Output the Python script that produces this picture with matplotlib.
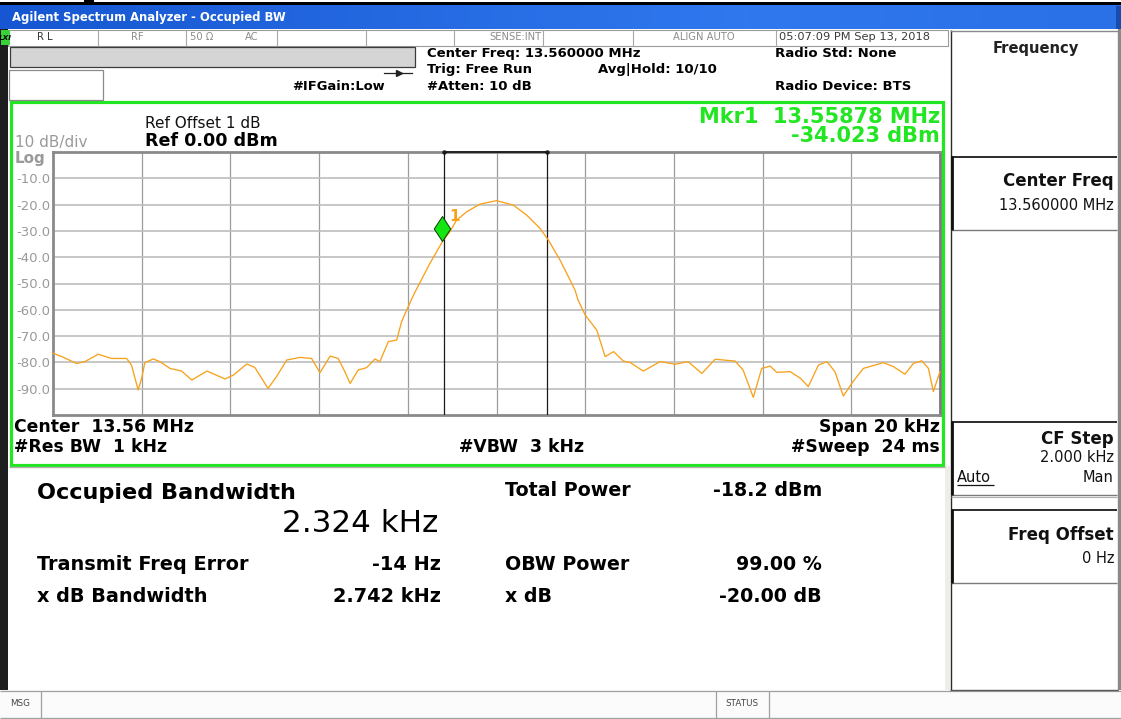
import numpy as np
import matplotlib
matplotlib.use('Agg')
import matplotlib.pyplot as plt
from matplotlib.patches import Rectangle
from matplotlib.path import Path
from matplotlib.colors import LinearSegmentedColormap

# ---------------- data ----------------
center_mhz = 13.56
span_khz = 20.0
ref_level_dbm = 0.0
db_per_div = 10.0

freq_offset_khz = [-10.00, -9.80, -9.47, -9.28, -8.98, -8.68, -8.34, -8.23, -8.08, -8.00,
                   -7.93, -7.74, -7.59, -7.36, -7.10, -6.87, -6.53, -6.12, -5.93, -5.63,
                   -5.45, -5.15, -4.96, -4.73, -4.43, -4.17, -3.98, -3.75, -3.57, -3.42,
                   -3.30, -3.12, -2.93, -2.74, -2.63, -2.44, -2.25, -2.14, -1.99, -1.86,
                   -1.50, -1.35, -1.20, -1.05, -0.90, -0.67, -0.37, 0.00, 0.38, 0.68,
                   0.83, 0.98, 1.17, 1.43, 1.66, 1.77, 1.84, 2.00, 2.26, 2.45,
                   2.64, 2.86, 3.01, 3.31, 3.69, 4.03, 4.32, 4.63, 4.93, 5.38,
                   5.56, 5.79, 5.98, 6.17, 6.32, 6.62, 6.85, 7.03, 7.26, 7.45,
                   7.63, 7.82, 8.04, 8.27, 8.72, 8.95, 9.21, 9.40, 9.59, 9.74,
                   9.85, 10.00]
level_dbm = [-76.5, -77.8, -80.4, -79.7, -76.9, -78.5, -78.5, -81.0, -90.5, -86.0,
             -80.1, -78.7, -79.7, -82.3, -83.3, -86.7, -83.3, -86.3, -84.8, -80.6,
             -81.9, -89.9, -85.4, -79.1, -78.1, -78.5, -83.9, -77.6, -78.5, -83.5,
             -88.0, -82.9, -82.0, -78.7, -79.7, -72.1, -71.5, -64.5, -58.8, -54.0,
             -42.3, -37.9, -33.5, -30.3, -25.9, -22.7, -19.8, -18.5, -20.2, -24.0,
             -26.5, -29.0, -33.5, -41.0, -48.7, -52.5, -56.3, -62.0, -67.7, -77.8,
             -75.9, -79.5, -80.0, -83.3, -79.7, -80.7, -79.7, -84.2, -78.8, -79.5,
             -82.9, -93.3, -82.3, -81.4, -83.8, -83.5, -86.0, -89.2, -81.0, -79.7,
             -83.5, -92.8, -87.3, -82.3, -80.1, -81.6, -84.5, -80.4, -79.4, -82.3,
             -91.1, -83.5]

marker_freq_mhz = 13.55878
marker_level_dbm = -34.023
obw_khz = 2.324
freq_error_hz = -14
xdb_bw_khz = 2.742
total_power_dbm = -18.2
obw_power_pct = 99.00
xdb_db = -20.00

ytick_values = [-10, -20, -30, -40, -50, -60, -70, -80, -90]
ytick_labels = ['-10.0', '-20.0', '-30.0', '-40.0', '-50.0', '-60.0', '-70.0', '-80.0', '-90.0']

# ---------------- figure ----------------
W, H = 1121, 719
plt.rcParams['font.family'] = ['DejaVu Sans']
fig = plt.figure(figsize=(W / 100, H / 100), dpi=100)
fig.patch.set_facecolor('white')
bg = fig.add_axes([0, 0, 1, 1])
bg.set_xlim(0, W)
bg.set_ylim(H, 0)
bg.axis('off')

GREEN = '#22e622'
GRAYTXT = '#8c8c8c'


def rect(x0, y0, x1, y1, fc, ec='none', lw=0.0, z=1):
    bg.add_patch(Rectangle((x0, y0), x1 - x0, y1 - y0, facecolor=fc,
                           edgecolor=ec, linewidth=lw, zorder=z))


def hline(y, x0, x1, color, lw, z=3):
    bg.plot([x0, x1], [y, y], color=color, lw=lw, zorder=z, solid_capstyle='butt')


def vline(x, y0, y1, color, lw, z=3):
    bg.plot([x, x], [y0, y1], color=color, lw=lw, zorder=z, solid_capstyle='butt')


def txt(x, y, s, size, weight='normal', color='black', ha='left', va='center', **kw):
    bg.text(x, y, s, fontsize=size, fontweight=weight, color=color, ha=ha, va=va,
            zorder=6, **kw)


# top strip and title bar
rect(0, 2, W, 5.5, '#000000')
rect(84, 0, 94, 3, '#000000')
grad = np.linspace(0, 1, 256)[None, :]
cm = LinearSegmentedColormap.from_list('xp', ['#1656d2', '#2468e0', '#2f78ee', '#2a70e6'])
bg.imshow(grad, cmap=cm, extent=[0, W, 29, 5.5], aspect='auto', zorder=2)
rect(1116, 5.5, W, 29, '#1a4cb0', z=3)
bg.set_xlim(0, W)
bg.set_ylim(H, 0)
txt(12, 17, 'Agilent Spectrum Analyzer - Occupied BW', 8.4, 'bold', 'white')

# left dark frame and right edge
rect(0, 29, 7.5, 690, '#1e1e1e', z=2)
rect(1118, 29, W, 690, '#8a8a8a', z=2)

# status row
rect(7.5, 29.5, 948, 46, 'white', ec='#9a9a9a', lw=0.8, z=2)
rect(0.5, 30, 10, 44.5, '#3ad23a', z=3)
txt(5, 37.5, 'LXI', 5.2, 'bold', 'black', ha='center', style='italic')
for sx in [98, 186, 277, 366, 454, 543, 633, 776]:
    vline(sx, 29.5, 46, '#a8a8a8', 0.8)
txt(37, 37.5, 'R L', 7.2, 'normal', '#333333')
txt(137, 37.5, 'RF', 7.2, 'normal', GRAYTXT, ha='center')
txt(190, 37.5, '50 Ω', 7.2, 'normal', GRAYTXT)
txt(245, 37.5, 'AC', 7.2, 'normal', GRAYTXT)
txt(541, 37.5, 'SENSE:INT', 7.2, 'normal', GRAYTXT, ha='right')
txt(673, 37.5, 'ALIGN AUTO', 7.2, 'normal', GRAYTXT)
txt(779, 37.5, '05:07:09 PM Sep 13, 2018', 8.2, 'normal', '#3a3a3a')

# header area
rect(10, 47, 415, 67, '#d5d5d5', ec='#3c3c3c', lw=0.9, z=3)
rect(9, 70, 103, 99.5, 'white', ec='#8a8a8a', lw=0.9, z=3)
bg.plot([384, 412], [72.5, 72.5], color='#222222', lw=0.9, zorder=4)
bg.plot([399], [72.5], marker='>', markersize=5, color='#222222', zorder=4)
txt(292, 87, '#IFGain:Low', 9.4, 'bold')
txt(427, 53.5, 'Center Freq: %.6f MHz' % center_mhz, 9.5, 'bold')
txt(427, 69.5, 'Trig: Free Run', 9.5, 'bold')
txt(427, 86, '#Atten: 10 dB', 9.5, 'bold')
txt(598, 69.5, 'Avg|Hold: 10/10', 9.5, 'bold')
txt(775, 53.5, 'Radio Std: None', 9.5, 'bold')
txt(775, 86, 'Radio Device: BTS', 9.5, 'bold')

# green measurement panel
rect(10.5, 101.5, 943, 464.5, 'white', ec=GREEN, lw=2.3, z=2)
txt(145, 124, 'Ref Offset 1 dB', 11, 'normal', '#111111')
txt(145, 141.5, 'Ref %.2f dBm' % ref_level_dbm, 12.6, 'bold')
txt(15, 142, '10 dB/div', 11, 'normal', '#9a9a9a')
txt(15, 158, 'Log', 11, 'bold', '#9a9a9a')
txt(940, 117, 'Mkr1  %.5f MHz' % marker_freq_mhz, 15, 'bold', GREEN, ha='right')
txt(940, 135.5, '%.3f dBm' % marker_level_dbm, 15, 'bold', GREEN, ha='right')
txt(14, 427, 'Center  %.2f MHz' % center_mhz, 12.4, 'bold')
txt(14, 447.5, '#Res BW  1 kHz', 12.4, 'bold')
txt(459, 447.5, '#VBW  3 kHz', 12.4, 'bold')
txt(940, 427, 'Span %g kHz' % span_khz, 12.4, 'bold', ha='right')
txt(940, 447.5, '#Sweep  24 ms', 12.4, 'bold', ha='right')

# bottom results panel
rect(945, 466, 951, 690, '#efeee6', z=2)
hline(467, 9, 945, '#b0b0b0', 1.0)
txt(37, 493, 'Occupied Bandwidth', 16.1, 'bold')
txt(438, 523, '%.3f kHz' % obw_khz, 22.3, 'normal', ha='right')
txt(37, 564, 'Transmit Freq Error', 13.9, 'bold')
txt(441, 564, '%d Hz' % freq_error_hz, 13.9, 'bold', ha='right')
txt(37, 597, 'x dB Bandwidth', 13.9, 'bold')
txt(441, 597, '%.3f kHz' % xdb_bw_khz, 13.9, 'bold', ha='right')
txt(505, 490, 'Total Power', 13.7, 'bold')
txt(822, 490, '%.1f dBm' % total_power_dbm, 13.7, 'bold', ha='right')
txt(505, 564, 'OBW Power', 13.7, 'bold')
txt(822, 564, '%.2f %%' % obw_power_pct, 13.7, 'bold', ha='right')
txt(505, 597, 'x dB', 13.7, 'bold')
txt(822, 597, '%.2f dB' % xdb_db, 13.7, 'bold', ha='right')

# bottom status bar
rect(0, 690, W, 719, '#fbfbfb', z=2)
hline(690.5, 0, W, '#a0a0a0', 0.9)
hline(717.5, 0, W, '#a0a0a0', 0.9)
vline(40.5, 690.5, 717.5, '#a0a0a0', 0.9)
vline(715.5, 690.5, 717.5, '#a0a0a0', 0.9)
vline(768.5, 690.5, 717.5, '#a0a0a0', 0.9)
txt(10, 704, 'MSG', 6.3, 'normal', '#444444')
txt(742, 704, 'STATUS', 6.3, 'normal', '#444444', ha='center')

# right soft-key panel
rect(950, 30, 1118, 690, 'white', z=2)
vline(950.5, 30, 690, '#2a2a2a', 1.0)
vline(1117.5, 30, 690, '#8a8a8a', 1.0)
hline(30.5, 950, 1118, '#8a8a8a', 1.0)
hline(689.5, 950, 1118, '#5a5a5a', 1.0)
txt(1036, 48, 'Frequency', 10.6, 'bold', '#222222', ha='center')
for (y0, y1) in [(156, 230), (421, 494.5), (509, 583)]:
    hline(y0 + 0.7, 951, 1117, '#1a1a1a', 1.3)
    hline(y1, 951, 1117, '#7a7a7a', 1.0)
    vline(952.2, y0, y1, '#111111', 2.0)
hline(497, 951, 1117, '#b0b0b0', 0.8)
txt(1114, 181, 'Center Freq', 12, 'bold', '#111111', ha='right')
txt(1114, 205.5, '%.6f MHz' % center_mhz, 10.5, 'normal', '#111111', ha='right')
txt(1114, 439, 'CF Step', 12, 'bold', '#111111', ha='right')
txt(1114, 457.5, '2.000 kHz', 10.5, 'normal', '#111111', ha='right')
txt(957, 477, 'Auto', 10.5, 'normal', '#111111')
hline(484.5, 957, 994, '#111111', 0.9, z=6)
txt(1114, 477, 'Man', 10.5, 'normal', '#111111', ha='right')
txt(1114, 534.5, 'Freq Offset', 12, 'bold', '#111111', ha='right')
txt(1114, 558.5, '0 Hz', 10.5, 'normal', '#111111', ha='right')

# ---------------- spectrum axes ----------------
L, R, T, B = 53, 940, 152, 415
ax = fig.add_axes([L / W, (H - B) / H, (R - L) / W, (B - T) / H])
ax.set_facecolor('white')
f0 = center_mhz - span_khz / 2000.0
f1 = center_mhz + span_khz / 2000.0
ax.set_xlim(f0, f1)
ax.set_ylim(ref_level_dbm - 10 * db_per_div, ref_level_dbm)

xgrid = np.linspace(f0, f1, 11)[1:-1]
ax.set_xticks(xgrid)
ax.set_xticklabels([])
ax.set_yticks(ytick_values, ytick_labels)
ax.tick_params(axis='x', length=0)
ax.tick_params(axis='y', length=0, pad=26.6, labelsize=9.5, labelcolor='#9a9a9a')
for lab in ax.get_yticklabels():
    lab.set_horizontalalignment('left')
ax.grid(axis='y', color='#bdbdbd', lw=1.2)
ax.grid(axis='x', color='#9c9c9c', lw=0.9)
ax.set_axisbelow(True)
for side, sp in ax.spines.items():
    sp.set_color('#8a8a8a' if side != 'right' else '#7a7a7a')
    sp.set_linewidth(2.0)

# OBW bounds
fc_meas = center_mhz + freq_error_hz / 1e6
obw_lo = fc_meas - obw_khz / 2000.0
obw_hi = fc_meas + obw_khz / 2000.0
for fxv in (obw_lo, obw_hi):
    ax.axvline(fxv, color='#1a1a1a', lw=0.9, zorder=3)
ax.plot([obw_lo, obw_hi], [ref_level_dbm, ref_level_dbm], color='#1a1a1a', lw=1.3,
        zorder=4, clip_on=False, marker='o', markersize=2.2, markevery=[0, 1])

# trace
fx = center_mhz + np.array(freq_offset_khz) / 1000.0
ax.plot(fx, level_dbm, color='#f8a21c', lw=0.95, zorder=5, clip_on=False)

# marker (diamond with its lower tip on the trace point)
diamond = Path([(0, 0), (0.33, 0.5), (0, 1), (-0.33, 0.5), (0, 0)],
               [Path.MOVETO, Path.LINETO, Path.LINETO, Path.LINETO, Path.CLOSEPOLY])
ax.plot([marker_freq_mhz], [marker_level_dbm], marker=diamond, markersize=36,
        markerfacecolor='#14e614', markeredgecolor='#0a3a0a', markeredgewidth=0.7,
        linestyle='none', zorder=7, clip_on=False)
ax.annotate('1', (marker_freq_mhz, marker_level_dbm), xytext=(9, 18),
            textcoords='offset points', color='#f8a21c', fontsize=11, fontweight='bold',
            ha='center', va='center', zorder=8)

fig.savefig('out.png', dpi=100)
